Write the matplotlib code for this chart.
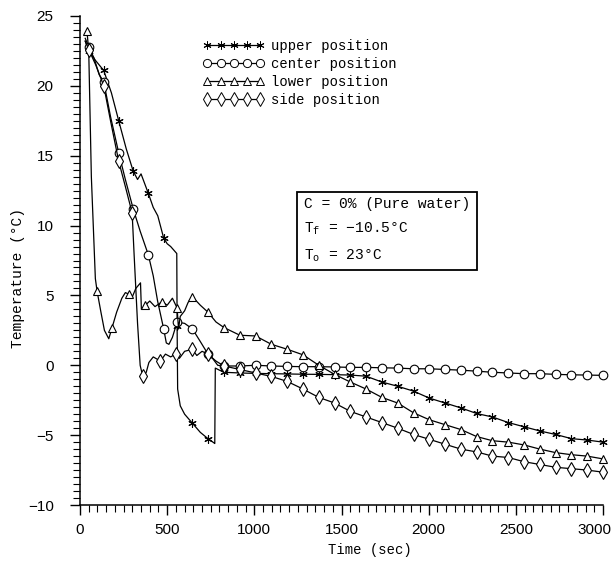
import numpy as np
import matplotlib
matplotlib.use("Agg")
import matplotlib.pyplot as plt
from matplotlib.lines import Line2D
from matplotlib.ticker import MultipleLocator
import matplotlib.transforms as mtransforms

# ---------------- data ----------------
LATE_T = [917, 1007, 1098, 1188, 1279, 1370, 1460, 1551, 1641, 1732, 1822, 1913,
          2004, 2094, 2185, 2275, 2366, 2457, 2547, 2638, 2728, 2819, 2909, 3000]

upper_t = [30, 50, 90, 136, 180, 222, 265, 305, 330, 350,
           392, 420, 446, 480, 500, 520, 555, 557, 560, 575,
           600, 645, 690, 734, 768, 773, 776, 800, 826] + LATE_T
upper_v = [23.2, 22.5, 21.8, 21.1, 19.5, 17.5, 15.5, 13.9, 13.3, 13.7,
           12.3, 11.3, 10.7, 9.1, 8.7, 8.5, 8.0, 2.8, -1.7, -2.9,
           -3.5, -4.15, -4.8, -5.25, -5.55, -5.6, -0.2, -0.35, -0.5,
           -0.55, -0.58, -0.6, -0.62, -0.64, -0.65, -0.67, -0.7, -0.78, -1.2, -1.5, -1.85,
           -2.35, -2.7, -3.05, -3.45, -3.7, -4.1, -4.4, -4.7, -4.95, -5.25, -5.35, -5.5]
upper_marks = [50, 136, 222, 305, 392, 480, 557, 645, 734, 826] + LATE_T

center_t = [30, 50, 80, 110, 136, 175, 222, 260, 305, 345,
            392, 420, 445, 480, 495, 510, 530, 557, 600, 645,
            690, 734, 780, 826] + LATE_T
center_v = [23.4, 22.8, 22.0, 20.8, 20.3, 17.8, 15.2, 13.3, 11.2, 9.6,
            7.9, 6.4, 4.6, 2.6, 1.6, 1.5, 2.0, 3.1, 3.0, 2.6,
            1.7, 0.8, 0.3, -0.05,
            -0.05, 0.0, -0.05, -0.08, -0.1, -0.1, -0.12, -0.15, -0.15, -0.18, -0.2, -0.25,
            -0.25, -0.3, -0.35, -0.42, -0.5, -0.55, -0.6, -0.6, -0.65, -0.68, -0.7, -0.72]
center_marks = [50, 136, 222, 305, 392, 480, 557, 645, 734, 826] + LATE_T

lower_t = [40, 50, 65, 88, 98, 120, 140, 165, 184,
           210, 240, 260, 280, 300, 320, 347, 352, 375, 400,
           430, 471, 500, 530, 557, 565, 575, 600, 620, 645,
           690, 734, 780, 826] + LATE_T
lower_v = [23.9, 22.5, 13.5, 6.2, 5.3, 3.8, 2.5, 1.9, 2.7,
           3.8, 4.8, 5.2, 5.1, 4.9, 5.5, 5.9, 4.0, 4.3, 4.6,
           4.2, 4.55, 4.3, 4.8, 4.1, 2.6, 3.5, 3.9, 4.5, 4.9,
           4.3, 3.8, 3.1, 2.7,
           2.15, 2.1, 1.5, 1.15, 0.75, 0.0, -0.65, -1.2, -1.7, -2.3, -2.7, -3.4,
           -3.9, -4.25, -4.6, -5.1, -5.4, -5.5, -5.7, -6.0, -6.25, -6.4, -6.5, -6.7]
lower_marks = [40, 98, 184, 280, 375, 471, 557, 645, 734, 826] + LATE_T

side_t = [30, 50, 90, 136, 175, 222, 260, 299, 310, 330,
          345, 360, 380, 395, 420, 461, 490, 520, 548, 570,
          600, 644, 670, 700, 734, 760, 790, 826] + LATE_T
side_v = [23.2, 22.6, 21.5, 20.0, 17.5, 14.6, 12.8, 10.9, 8.0, 3.0,
          0.0, -0.8, -0.5, 0.2, 0.6, 0.3, 0.8, 0.6, 0.8, 0.5,
          1.0, 1.15, 0.7, 1.0, 0.8, 0.5, 0.0, -0.05,
          -0.3, -0.55, -0.8, -1.15, -1.7, -2.3, -2.7, -3.3, -3.7, -4.1, -4.5, -4.95,
          -5.3, -5.65, -6.0, -6.2, -6.5, -6.6, -6.9, -7.1, -7.3, -7.4, -7.5, -7.65]
side_marks = [50, 136, 222, 299, 360, 461, 548, 644, 734, 826] + LATE_T

labels = ["upper position", "center position", "lower position", "side position"]
x_ticks = [0, 500, 1000, 1500, 2000, 2500, 3000]
y_ticks = [-10, -5, 0, 5, 10, 15, 20, 25]

# ---------------- figure ----------------
MONO = ["Liberation Mono", "DejaVu Sans Mono"]
fig = plt.figure(figsize=(6.16, 5.61), dpi=100)
ax = fig.add_axes([0.1299, 0.0998, 0.849, 0.8717])

series = [
    (upper_t, upper_v, upper_marks, dict(marker=(6, 2, 0), markersize=6)),
    (center_t, center_v, center_marks, dict(marker="o", markersize=6.2)),
    (lower_t, lower_v, lower_marks, dict(marker="^", markersize=6.2)),
    (side_t, side_v, side_marks, dict(marker="d", markersize=7.5)),
]

handles = []
for (t, v, marks, mstyle), lab in zip(series, labels):
    t = np.asarray(t, float)
    v = np.asarray(v, float)
    mask = np.isin(t, marks)
    ax.plot(t, v, color="black", lw=0.9, markevery=list(mask),
            markerfacecolor="white", markeredgecolor="black",
            markeredgewidth=0.8, clip_on=False, **mstyle)
    handles.append(Line2D([0], [0], color="black", lw=0.9,
                          markerfacecolor="white", markeredgecolor="black",
                          markeredgewidth=0.7,
                          **{**mstyle, "markersize": mstyle["markersize"] * 0.95}))

ax.set_xlim(0, 3000)
ax.set_ylim(-10, 25)
ax.set_xticks(x_ticks)
ax.set_yticks(y_ticks)
ax.xaxis.set_minor_locator(MultipleLocator(50))
ax.yaxis.set_minor_locator(MultipleLocator(0.5))
ax.tick_params(which="major", direction="out", length=7, width=1.0,
               labelsize=11)
ax.tick_params(which="minor", direction="out", length=5, width=0.8)
ax.tick_params(axis="x", pad=6)
ax.tick_params(axis="y", pad=12)
for lbl in ax.get_xticklabels() + ax.get_yticklabels():
    lbl.set_fontfamily("Liberation Sans")
# last x label nudged left so it stays inside the canvas, as in the scan
last = ax.get_xticklabels()[-1]
last.set_transform(last.get_transform() +
                   mtransforms.ScaledTranslation(-6 / 72, 0, fig.dpi_scale_trans))

for s in ["top", "right"]:
    ax.spines[s].set_visible(False)
for s in ["left", "bottom"]:
    ax.spines[s].set_linewidth(1.1)

ax.set_xlabel("Time (sec)", family=MONO, fontsize=10)
ax.set_ylabel("Temperature (°C)", family=MONO, fontsize=10.5)
ax.xaxis.set_label_coords(0.555, -0.078)
ax.yaxis.set_label_coords(-0.105, 0.465)

leg = ax.legend(handles, labels, loc="upper left", bbox_to_anchor=(0.225, 0.965),
                frameon=False, numpoints=5, handlelength=4.4,
                handletextpad=0.5, labelspacing=0.3, borderaxespad=0,
                prop={"family": MONO, "size": 10})

box_text = ("C = 0% (Pure water)\n"
            "T$_\\mathregular{f}$ = \u221210.5°C\n"
            "T$_\\mathregular{o}$ = 23°C")
ax.text(0.428, 0.63, box_text, transform=ax.transAxes, family=MONO,
        fontsize=10.5, va="top", ha="left", linespacing=1.8,
        bbox=dict(boxstyle="square,pad=0.45", facecolor="white",
                  edgecolor="black", linewidth=1.3))

fig.savefig("out.png", dpi=100)
